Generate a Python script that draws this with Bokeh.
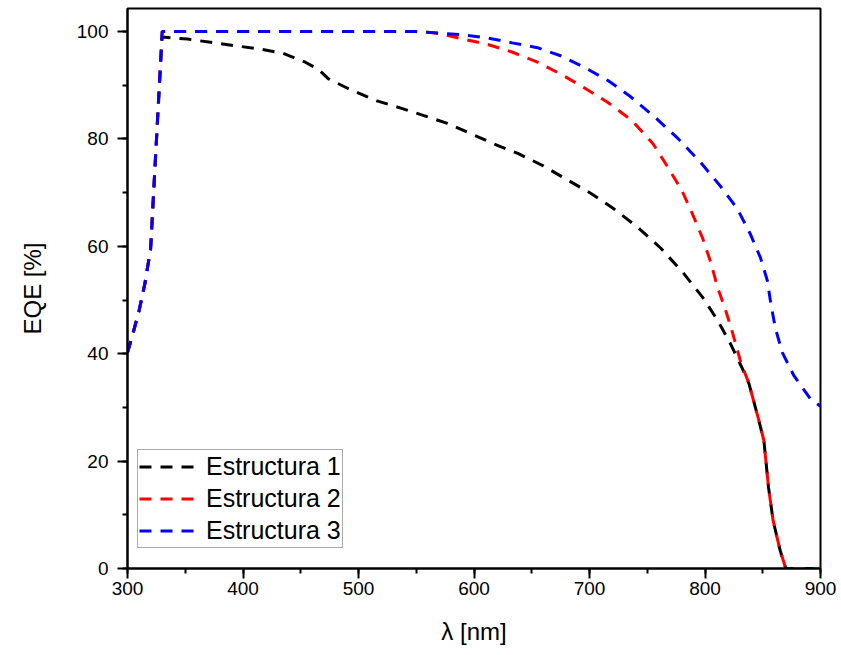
from bokeh.plotting import figure
from bokeh.models import Range1d, SingleIntervalTicker, Legend, LegendItem
from bokeh.embed import file_html
from bokeh.resources import INLINE

# ---- data ----
wl1 = [300, 305, 310, 315, 320, 330, 352, 372, 392, 413, 434, 454, 465, 474, 491, 516, 536, 556,
       577, 597, 617, 638, 660, 679, 701, 721, 742, 762, 781, 798, 811, 822, 832, 838, 846, 851,
       855, 859, 865, 870, 880, 890, 900]
eqe1 = [40.2, 44.0, 48.0, 53.0, 59.5, 99.0, 98.6, 98.0, 97.4, 96.8, 96.0, 94.3, 93.0, 91.2, 89.4,
        87.1, 85.8, 84.4, 82.9, 81.0, 79.1, 77.3, 75.0, 72.6, 69.9, 67.0, 63.5, 59.6, 55.1, 50.5,
        46.2, 41.9, 37.4, 34.5, 28.1, 23.8, 15.1, 8.9, 3.4, 0.0, 0.0, 0.0, 0.0]

wl2 = [300, 305, 310, 315, 320, 330, 350, 400, 450, 500, 550, 560, 571, 591, 612, 633, 655, 675,
       695, 716, 737, 755, 768, 780, 789, 798, 805, 811, 818, 824, 831, 838, 846, 851, 855, 859,
       865, 870, 880, 890, 900]
eqe2 = [40.2, 44.0, 48.0, 53.0, 59.5, 100.0, 100.0, 100.0, 100.0, 100.0, 100.0, 99.9, 99.6, 98.6,
        97.6, 96.2, 94.3, 92.1, 89.6, 86.8, 83.4, 79.1, 74.7, 70.4, 66.1, 61.5, 57.0, 52.3, 48.0,
        43.8, 38.4, 34.5, 28.1, 23.8, 15.1, 8.9, 3.4, 0.0, 0.0, 0.0, 0.0]

wl3 = [300, 305, 310, 315, 320, 330, 350, 400, 450, 500, 550, 571, 591, 612, 633, 655, 675, 695,
       716, 736, 757, 777, 796, 813, 828, 839, 848, 854, 857, 861, 867, 877, 891, 900]
eqe3 = [40.2, 44.0, 48.0, 53.0, 59.5, 100.0, 100.0, 100.0, 100.0, 100.0, 100.0, 99.7, 99.4, 98.8,
        97.9, 97.0, 95.5, 93.4, 90.9, 87.8, 84.0, 80.0, 75.7, 71.3, 67.0, 62.4, 57.9, 53.6, 49.3,
        44.7, 40.2, 35.9, 31.7, 30.2]

series_names = ["Estructura 1", "Estructura 2", "Estructura 3"]
series_colors = ["black", "red", "blue"]

x_ticks_interval = 100
y_ticks_interval = 20

FONT = "Liberation Sans"

p = figure(width=841, height=655, output_backend="svg", toolbar_location=None,
           x_range=Range1d(300, 900), y_range=Range1d(0, 104.3),
           min_border_left=127, min_border_right=21, min_border_top=8, min_border_bottom=87)

p.xgrid.visible = False
p.ygrid.visible = False
p.outline_line_color = "black"
p.outline_line_width = 2
p.background_fill_color = "white"
p.border_fill_color = "white"

p.xaxis.ticker = SingleIntervalTicker(interval=x_ticks_interval, num_minor_ticks=2)
p.yaxis.ticker = SingleIntervalTicker(interval=y_ticks_interval, num_minor_ticks=2)

for ax in (p.xaxis[0], p.yaxis[0]):
    ax.axis_line_width = 2
    ax.axis_line_color = "black"
    ax.major_tick_line_width = 2
    ax.minor_tick_line_width = 2
    ax.major_tick_in = 0
    ax.major_tick_out = 10
    ax.minor_tick_in = 0
    ax.minor_tick_out = 5
    ax.major_label_text_font = FONT
    ax.major_label_text_font_size = "19px"
    ax.major_label_text_color = "black"
    ax.axis_label_text_font = FONT
    ax.axis_label_text_font_size = "24px"
    ax.axis_label_text_font_style = "normal"
    ax.axis_label_text_color = "black"

p.xaxis.axis_label = "λ [nm]"
p.yaxis.axis_label = "EQE [%]"
p.xaxis.major_label_standoff = 3
p.yaxis.major_label_standoff = 9
p.xaxis.axis_label_standoff = 20
p.yaxis.axis_label_standoff = 28

items = []
for wl, eqe, name, col in zip([wl1, wl2, wl3], [eqe1, eqe2, eqe3], series_names, series_colors):
    r = p.line(wl, eqe, line_color=col, line_width=3, line_dash="12 9")
    items.append(LegendItem(label=name, renderers=[r]))

legend = Legend(items=items, location=(10, 20), orientation="vertical",
                glyph_width=60, glyph_height=31, label_height=31, spacing=1,
                padding=1, margin=0, label_standoff=7,
                label_text_font=FONT, label_text_font_size="25px", label_text_color="black",
                border_line_color="#555555", border_line_width=1,
                background_fill_color="white", background_fill_alpha=1.0)
p.add_layout(legend, "center")

open("out.html", "w").write(file_html(p, INLINE))
